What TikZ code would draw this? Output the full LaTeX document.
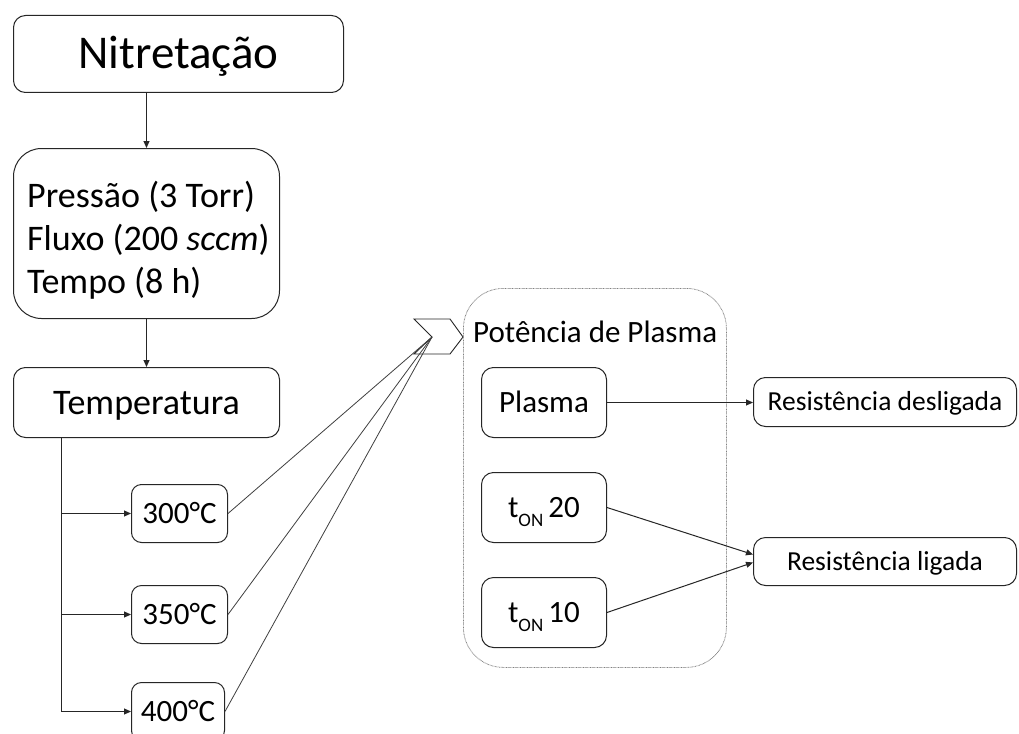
\documentclass[tikz,border=0pt]{standalone}
\usepackage{fontspec}
\setmainfont{Carlito}
\usetikzlibrary{arrows.meta}
\begin{document}
\begin{tikzpicture}[x=1pt,y=-1pt,
  box/.style={draw=black!85, line width=1pt, rounded corners=12pt, anchor=north west,
              inner sep=0pt, text depth=0pt, fill=white},
  fA/.style={font=\fontsize{47}{56}\selectfont, text height=30pt},
  fB/.style={font=\fontsize{36}{43}\selectfont, text height=23pt},
  fC/.style={font=\fontsize{31}{37}\selectfont, text height=20pt},
  fD/.style={font=\fontsize{27.5}{33}\selectfont, text height=17.7pt},
  arr/.style={draw=black!85, line width=1pt, -{Triangle[length=7pt,width=6pt]}},
  ln/.style={draw=black!75, line width=0.8pt},
  txt/.style={anchor=base west, inner sep=0pt}]
\clip (0,0) rectangle (1019,733);
\fill[white] (0,0) rectangle (1019,733);

% left column
\node[box, fA, minimum width=330pt, minimum height=77pt] (nit) at (13,15) {Nitretação};
\node[box, rounded corners=28pt, minimum width=266pt, minimum height=170pt] (press) at (13,148) {};
\node[txt, font=\fontsize{36}{43}\selectfont] (p1) at (27,207) {Pressão (3 Torr)};
\node[txt, font=\fontsize{36}{43}\selectfont] (p2) at (27,250) {Fluxo (200 \textit{sccm})};
\node[txt, font=\fontsize{36}{43}\selectfont] (p3) at (27,293) {Tempo (8 h)};
\node[box, fB, minimum width=266pt, minimum height=70pt] (temp) at (13,367) {Temperatura};

\node[box, fC, rounded corners=10pt, minimum width=96pt, minimum height=58pt] (c300) at (131,484) {300°C};
\node[box, fC, rounded corners=10pt, minimum width=96pt, minimum height=58pt] (c350) at (131,585) {350°C};
\node[box, fC, rounded corners=10pt, minimum width=93pt, minimum height=58pt] (c400) at (131,682) {400°C};

\draw[arr] (nit.south -| press.north) -- (press.north);
\draw[arr] (press.south) -- (temp.north);
\coordinate (tr) at (61,437);
\draw[arr] (tr) -- (tr |- c400.west) -- (c400.west);
\draw[arr] (tr |- c300.west) -- (c300.west);
\draw[arr] (tr |- c350.west) -- (c350.west);

% chevron
\draw[draw=black!85, line width=0.9pt, line join=miter] (414,319) -- (450,319) -- (463,337) -- (450,354) -- (414,354) -- (432,337) -- cycle;
\coordinate (notch) at (432,337);
\draw[ln] (c300.east) -- (notch);
\draw[ln] (c350.east) -- (notch);
\draw[ln] (c400.east) -- (notch);

% group
\node[draw=black!50, line width=0.8pt, dash pattern=on 0.7pt off 0.7pt, rounded corners=40pt,
      anchor=north west, minimum width=263pt, minimum height=379pt, inner sep=0pt] (grp) at (463,288) {};
\node[txt, font=\fontsize{31}{37}\selectfont] (pot) at (473,342) {Potência de Plasma};
\node[box, fC, minimum width=125pt, minimum height=70pt] (plasma) at (481,367) {Plasma};
\node[box, fC, minimum width=125pt, minimum height=70pt] (ton20) at (481,472)
  {t\raisebox{-0.28em}{\fontsize{19}{19}\selectfont ON}\,20\hspace{16pt}};
\node[box, fC, minimum width=125pt, minimum height=70pt] (ton10) at (481,577)
  {t\raisebox{-0.28em}{\fontsize{19}{19}\selectfont ON}\,10\hspace{16pt}};

% right
\node[box, fD, minimum width=263pt, minimum height=49pt] (resd) at (753,377) {Resistência desligada};
\node[box, fD, minimum width=263pt, minimum height=48pt] (resl) at (753,537) {Resistência ligada};

\draw[arr] (plasma.east) -- (plasma.east -| resd.west);
\draw[arr] (ton20.east) -- ([yshift=7pt]resl.west);
\draw[arr] (ton10.east) -- ([yshift=-1pt]resl.west);
\end{tikzpicture}
\end{document}
